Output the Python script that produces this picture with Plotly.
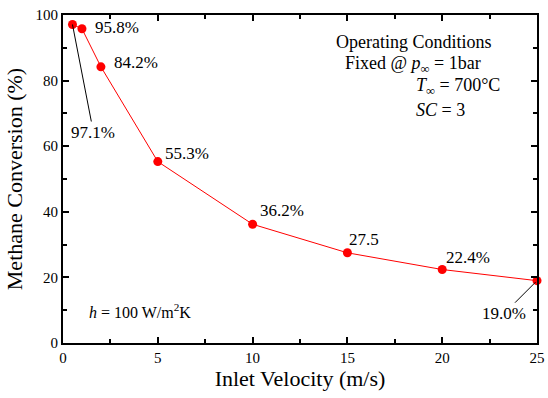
import plotly.graph_objects as go

velocity = [0.5, 1, 2, 5, 10, 15, 20, 25]
conversion = [97.1, 95.8, 84.2, 55.3, 36.2, 27.5, 22.4, 19.0]
point_labels = ["97.1%", "95.8%", "84.2%", "55.3%", "36.2%", "27.5", "22.4%", "19.0%"]

FONT = "Liberation Serif"

fig = go.Figure()
fig.add_trace(go.Scatter(
    x=velocity, y=conversion, mode="lines+markers",
    line=dict(color="#ff0000", width=1),
    marker=dict(color="#ff0000", size=9),
    cliponaxis=False, showlegend=False,
))

# label offsets (pixels) for plain labels
shifts = {1: (11, 1), 2: (11, 4), 3: (5, 8), 4: (5, 14), 5: (0, 13), 6: (2, 12)}
annotations = []
for i, (xv, yv, t) in enumerate(zip(velocity, conversion, point_labels)):
    if i in shifts:
        dx, dy = shifts[i]
        annotations.append(dict(x=xv, y=yv, text=t, showarrow=False,
                                xanchor="left", yanchor="middle",
                                xshift=dx, yshift=dy,
                                font=dict(family=FONT, size=17, color="black")))
    elif i == 0:
        annotations.append(dict(x=xv, y=yv, text=t, showarrow=True,
                                arrowhead=0, arrowwidth=1, arrowcolor="black",
                                ax=21, ay=108, standoff=0,
                                font=dict(family=FONT, size=17, color="black")))
    else:
        annotations.append(dict(x=xv, y=yv, text=t, showarrow=True,
                                arrowhead=0, arrowwidth=1, arrowcolor="black",
                                ax=-33, ay=33, standoff=2,
                                font=dict(family=FONT, size=17, color="black")))

box_font = dict(family=FONT, size=18, color="black")
annotations += [
    dict(x=18.51, y=91.8, text="Operating Conditions", showarrow=False,
         xanchor="center", yanchor="middle", font=box_font),
    dict(x=14.75, y=84.8, text="Fixed @ <i>p</i><sub>∞</sub> = 1bar", showarrow=False,
         xanchor="left", yanchor="middle", font=box_font),
    dict(x=18.5, y=78.2, text="<i>T</i><sub>∞</sub> = 700°C", showarrow=False,
         xanchor="left", yanchor="middle", font=box_font),
    dict(x=18.5, y=71.0, text="<i>SC</i> = 3", showarrow=False,
         xanchor="left", yanchor="middle", font=box_font),
    dict(x=1.27, y=9.8, text="<i>h</i> = 100 W/m<sup>2</sup>K", showarrow=False,
         xanchor="left", yanchor="middle", font=dict(family=FONT, size=16, color="black")),
]

axis_common = dict(
    showline=True, linecolor="black", linewidth=2, mirror="ticks",
    ticks="inside", ticklen=6, tickwidth=1.5, tickcolor="black",
    showgrid=False, zeroline=False,
    tickfont=dict(family=FONT, size=15, color="black"),
)

fig.update_layout(
    width=548, height=398,
    margin=dict(l=63, r=11, t=15, b=55, autoexpand=False),
    paper_bgcolor="white", plot_bgcolor="white",
    font=dict(family=FONT, color="black"),
    xaxis=dict(range=[0, 25], dtick=5, tick0=0,
               minor=dict(dtick=2.5, ticks="inside", ticklen=4, tickcolor="black", tickwidth=1.5),
               title=dict(text="Inlet Velocity (m/s)", standoff=6,
                          font=dict(family=FONT, size=22, color="black")),
               **axis_common),
    yaxis=dict(range=[0, 100], dtick=20, tick0=0,
               minor=dict(dtick=10, ticks="inside", ticklen=4, tickcolor="black", tickwidth=1.5),
               title=dict(text="Methane Conversion (%)", standoff=7,
                          font=dict(family=FONT, size=22, color="black")),
               **axis_common),
    annotations=annotations,
)

fig.write_html("out.html")
